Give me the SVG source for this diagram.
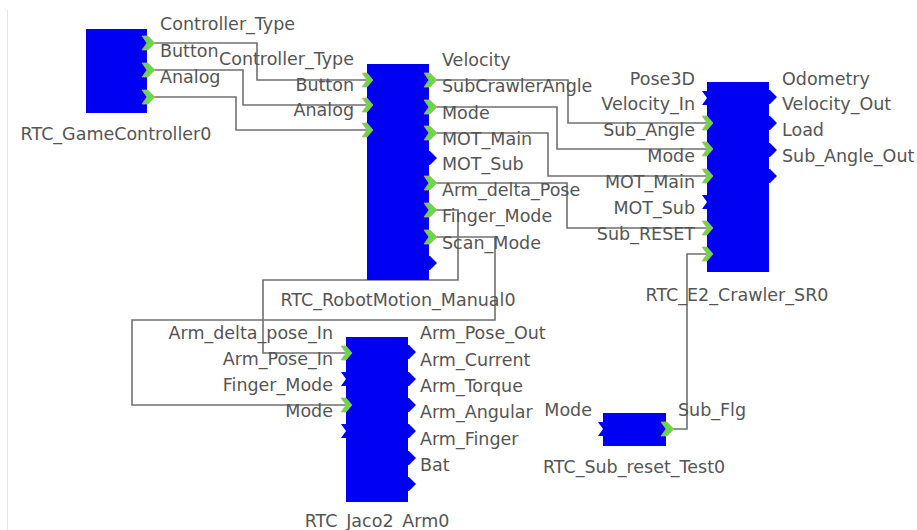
<svg xmlns="http://www.w3.org/2000/svg" xmlns:xlink="http://www.w3.org/1999/xlink" width="917" height="530" viewBox="0 0 917 530">
<style>
text{font-family:"DejaVu Sans","Liberation Sans",sans-serif;font-size:17.5px;fill:#555}
.r{text-anchor:end}
.m{text-anchor:middle}
.blk{fill:#0000f2}
.pb{fill:#0000f2}
.pg{fill:#62dc46;stroke:#d8a878;stroke-width:0.7}
.c{fill:none;stroke:#707070;stroke-width:1.6}
</style>
<defs>
<polygon id="op" points="-5,-7 1,-7 8,0 1,7 -5,7 0,0"/>
<polygon id="ip" points="-5,-7 0,-7 6,0 0,7 -5,7 0,0"/>
</defs>
<rect width="917" height="530" fill="#fff"/>
<line x1="7.5" y1="10" x2="7.5" y2="530" stroke="#e6e6e6" stroke-width="1"/>
<g id="connectors">
<polyline class="c" points="147,43 257,43 257,80 367,80"/>
<polyline class="c" points="147,70 243,70 243,105 367,105"/>
<polyline class="c" points="147,97 236,97 236,130 367,130"/>
<polyline class="c" points="429,80 568,80 568,123 707,123"/>
<polyline class="c" points="429,107 557,107 557,149 707,149"/>
<polyline class="c" points="429,133 548,133 548,176 707,176"/>
<polyline class="c" points="429,183 567,183 567,228 707,228"/>
<polyline class="c" points="429,210 458,210 458,280 263,280 263,353 346,353"/>
<polyline class="c" points="429,237 495,237 495,320 132,320 132,405 346,405"/>
<polyline class="c" points="666,429 687,429 687,254 707,254"/>
</g>
<g id="RTC_GameController0">
<rect class="blk" x="86" y="29" width="61" height="84"/>
<use xlink:href="#op" x="147" y="43" class="pg"/>
<use xlink:href="#op" x="147" y="70" class="pg"/>
<use xlink:href="#op" x="147" y="97" class="pg"/>
<text x="160" y="30">Controller_Type</text>
<text x="160" y="57">Button</text>
<text x="160" y="83">Analog</text>
<text class="m" x="116" y="140">RTC_GameController0</text>
</g>
<g id="RTC_RobotMotion_Manual0">
<rect class="blk" x="367" y="64" width="62" height="216"/>
<use xlink:href="#ip" x="367" y="80" class="pg"/>
<use xlink:href="#ip" x="367" y="105" class="pg"/>
<use xlink:href="#ip" x="367" y="130" class="pg"/>
<text class="r" x="354" y="65">Controller_Type</text>
<text class="r" x="354" y="91">Button</text>
<text class="r" x="354" y="116">Analog</text>
<use xlink:href="#op" x="429" y="80" class="pg"/>
<use xlink:href="#op" x="429" y="107" class="pg"/>
<use xlink:href="#op" x="429" y="133" class="pg"/>
<use xlink:href="#op" x="429" y="158" class="pb"/>
<use xlink:href="#op" x="429" y="183" class="pg"/>
<use xlink:href="#op" x="429" y="210" class="pg"/>
<use xlink:href="#op" x="429" y="237" class="pg"/>
<use xlink:href="#op" x="429" y="263" class="pb"/>
<text x="442" y="66">Velocity</text>
<text x="442" y="92">SubCrawlerAngle</text>
<text x="442" y="119">Mode</text>
<text x="442" y="145">MOT_Main</text>
<text x="442" y="170">MOT_Sub</text>
<text x="442" y="196">Arm_delta_Pose</text>
<text x="442" y="222">Finger_Mode</text>
<text x="442" y="249">Scan_Mode</text>
<text class="m" x="398" y="306">RTC_RobotMotion_Manual0</text>
</g>
<g id="RTC_E2_Crawler_SR0">
<rect class="blk" x="707" y="82" width="62" height="190"/>
<use xlink:href="#ip" x="707" y="98" class="pb"/>
<use xlink:href="#ip" x="707" y="123" class="pg"/>
<use xlink:href="#ip" x="707" y="149" class="pg"/>
<use xlink:href="#ip" x="707" y="176" class="pg"/>
<use xlink:href="#ip" x="707" y="202" class="pb"/>
<use xlink:href="#ip" x="707" y="228" class="pg"/>
<use xlink:href="#ip" x="707" y="254" class="pg"/>
<text class="r" x="695" y="85">Pose3D</text>
<text class="r" x="695" y="110">Velocity_In</text>
<text class="r" x="695" y="136">Sub_Angle</text>
<text class="r" x="695" y="162">Mode</text>
<text class="r" x="695" y="188">MOT_Main</text>
<text class="r" x="695" y="214">MOT_Sub</text>
<text class="r" x="695" y="240">Sub_RESET</text>
<use xlink:href="#op" x="769" y="97" class="pb"/>
<use xlink:href="#op" x="769" y="123" class="pb"/>
<use xlink:href="#op" x="769" y="150" class="pb"/>
<use xlink:href="#op" x="769" y="176" class="pb"/>
<text x="782" y="85">Odometry</text>
<text x="782" y="110">Velocity_Out</text>
<text x="782" y="136">Load</text>
<text x="782" y="162">Sub_Angle_Out</text>
<text class="m" x="737" y="301">RTC_E2_Crawler_SR0</text>
</g>
<g id="RTC_Jaco2_Arm0">
<rect class="blk" x="346" y="337" width="62" height="165"/>
<use xlink:href="#ip" x="346" y="353" class="pg"/>
<use xlink:href="#ip" x="346" y="379" class="pb"/>
<use xlink:href="#ip" x="346" y="405" class="pg"/>
<use xlink:href="#ip" x="346" y="431" class="pb"/>
<text class="r" x="333" y="339">Arm_delta_pose_In</text>
<text class="r" x="333" y="365">Arm_Pose_In</text>
<text class="r" x="333" y="391">Finger_Mode</text>
<text class="r" x="333" y="417">Mode</text>
<use xlink:href="#op" x="408" y="352" class="pb"/>
<use xlink:href="#op" x="408" y="379" class="pb"/>
<use xlink:href="#op" x="408" y="405" class="pb"/>
<use xlink:href="#op" x="408" y="431" class="pb"/>
<use xlink:href="#op" x="408" y="458" class="pb"/>
<use xlink:href="#op" x="408" y="484" class="pb"/>
<text x="420" y="339">Arm_Pose_Out</text>
<text x="420" y="366">Arm_Current</text>
<text x="420" y="392">Arm_Torque</text>
<text x="420" y="418">Arm_Angular</text>
<text x="420" y="445">Arm_Finger</text>
<text x="420" y="471">Bat</text>
<text class="m" x="377" y="527">RTC_Jaco2_Arm0</text>
</g>
<g id="RTC_Sub_reset_Test0">
<rect class="blk" x="603" y="413" width="63" height="33"/>
<use xlink:href="#ip" x="603" y="429" class="pb"/>
<use xlink:href="#op" x="666" y="429" class="pg"/>
<text class="r" x="592" y="416">Mode</text>
<text x="678" y="416">Sub_Flg</text>
<text class="m" x="634" y="473">RTC_Sub_reset_Test0</text>
</g>
</svg>
